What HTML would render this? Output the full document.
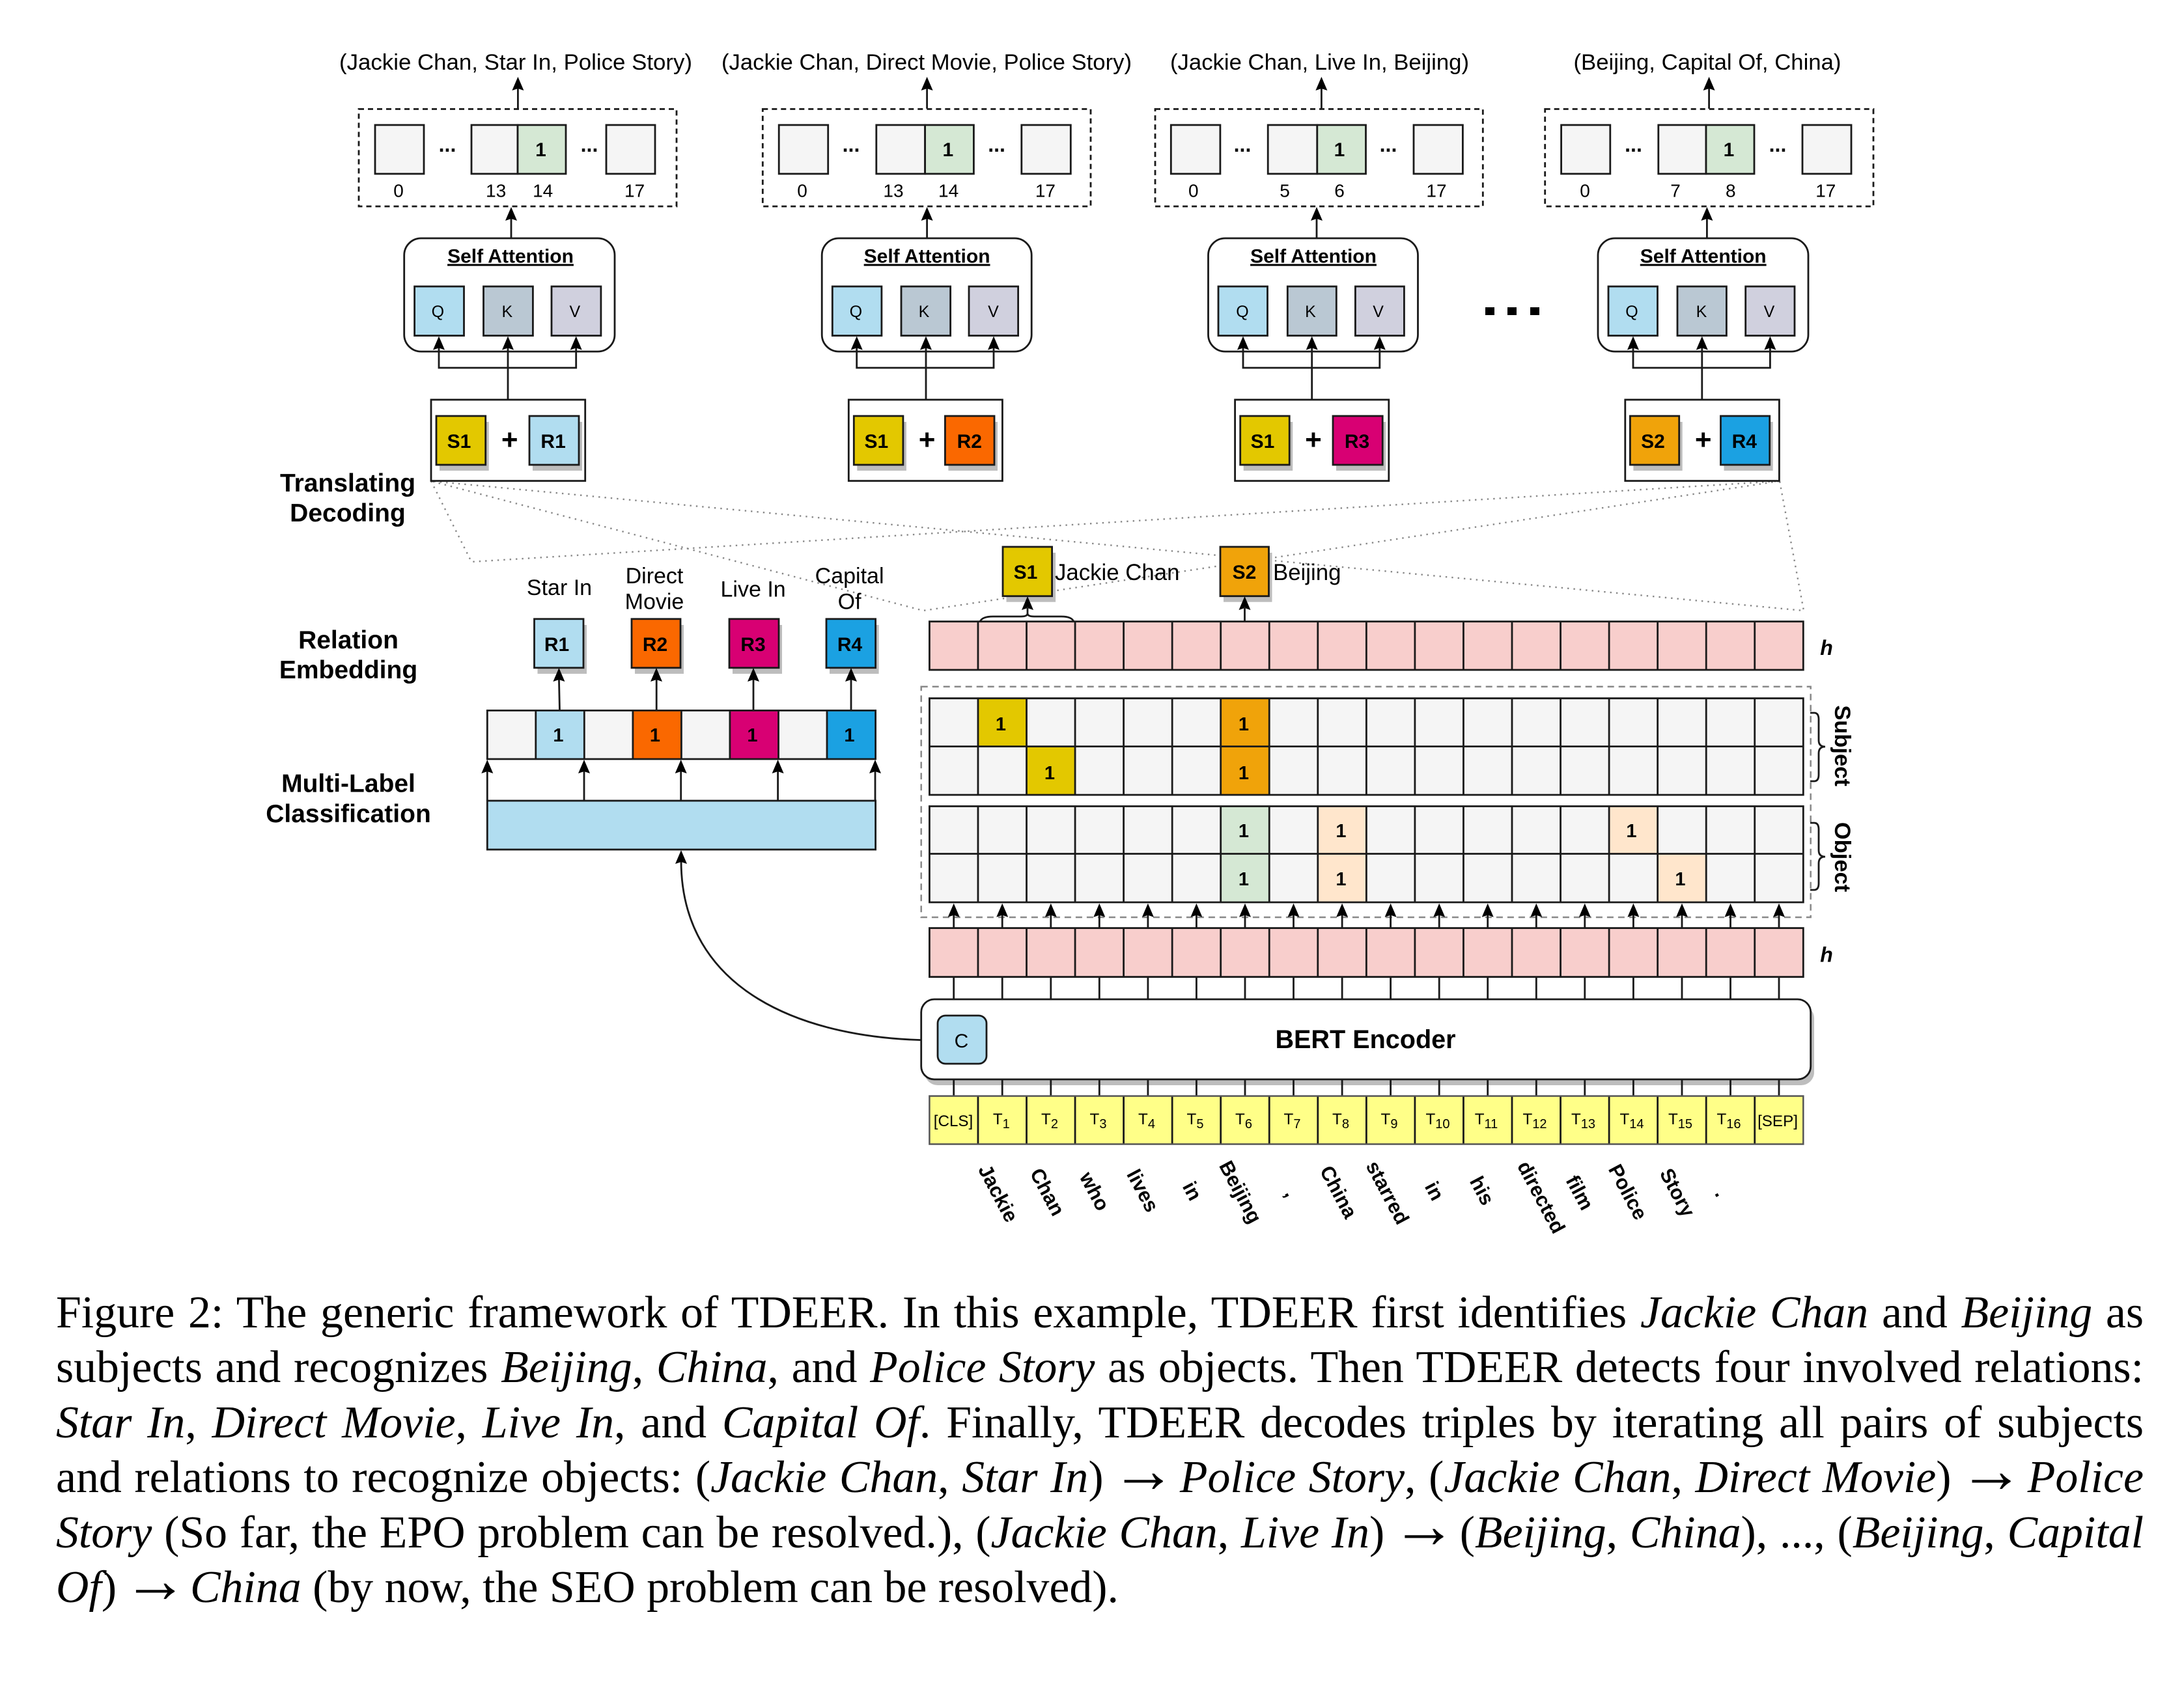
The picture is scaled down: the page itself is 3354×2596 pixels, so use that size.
<!DOCTYPE html>
<html><head><meta charset="utf-8">
<style>
html,body{margin:0;padding:0;background:#fff;width:3354px;height:2596px;overflow:hidden}
svg{position:absolute;left:0;top:0}
text{font-family:"Liberation Sans",Arial,sans-serif;fill:#000}
.b{font-weight:bold}
.m{text-anchor:middle}
.s{fill:none;stroke:#1a1a1a;stroke-width:2.8}
.t{stroke:#1a1a1a;stroke-width:2.8}
.c{position:absolute;left:86px;width:3206px;font-family:"Liberation Serif","Times New Roman",serif;font-size:69.8px;line-height:84px;height:84px;color:#000;white-space:nowrap;text-align:justify;text-align-last:justify}
.c b{font-weight:normal;font-size:100px;line-height:0;margin:0 -14px 0 -8px}
.l{text-align:left;text-align-last:left}
.sh{fill:#bdbdbd}
.d{fill:none;stroke:#888;stroke-width:2.4;stroke-dasharray:2.4 7}
.v{vector-effect:non-scaling-stroke;fill:none;stroke:#1a1a1a;stroke-width:2.8}
</style></head><body>
<svg width="3354" height="2596" viewBox="0 0 3354 2596" xmlns="http://www.w3.org/2000/svg">
<defs>
<path id="a" d="M0 0L9 21L0 18L-9 21Z" fill="#000"/>
<path id="cols" class="v" d="M1501.95 0v1M1576.5 0v1M1651.05 0v1M1725.6 0v1M1800.15 0v1M1874.7 0v1M1949.25 0v1M2023.8 0v1M2098.35 0v1M2172.9 0v1M2247.45 0v1M2322 0v1M2396.55 0v1M2471.1 0v1M2545.65 0v1M2620.2 0v1M2694.75 0v1"/>
<path id="stems" class="v" d="M1464.7 0v1M1539.2 0v1M1613.8 0v1M1688.3 0v1M1762.9 0v1M1837.4 0v1M1912 0v1M1986.5 0v1M2061.1 0v1M2135.6 0v1M2210.2 0v1M2284.7 0v1M2359.3 0v1M2433.8 0v1M2508.4 0v1M2583 0v1M2657.5 0v1M2732 0v1"/>
</defs>

<!-- dotted zoom lines -->
<path class="d" d="M662 739L724 863L2733 739L1418 938L662 739L2770 938L2733 739"/>

<!-- ========== column 1 ========== -->
<text x="792" y="107" class="m" font-size="34.5" textLength="542" lengthAdjust="spacingAndGlyphs">(Jackie Chan, Star In, Police Story)</text>
<path class="s" d="M795.4 167V134"/><use href="#a" x="795.4" y="118"/>
<rect x="551" y="167.5" width="488" height="149.5" fill="#fff" stroke="#1a1a1a" stroke-width="2.8" stroke-dasharray="8 6"/>
<g fill="#f5f5f5" class="t"><rect x="576" y="192" width="75" height="75"/><rect x="724" y="192" width="71" height="75"/><rect x="795" y="192" width="74" height="75" fill="#d5e8d4"/><rect x="931" y="192" width="75" height="75"/></g>
<g class="m b" font-size="32"><text x="687" y="233">...</text><text x="905" y="233">...</text></g>
<text x="830.5" y="240" class="m b" font-size="30">1</text>
<g class="m" font-size="28"><text x="612" y="302.5">0</text><text x="761.6" y="302.5">13</text><text x="833.7" y="302.5">14</text><text x="974.6" y="302.5">17</text></g>
<path class="s" d="M785 366V335"/><use href="#a" x="785" y="318"/>
<rect x="620.7" y="366" width="323.3" height="174" rx="26" fill="#fff" class="t"/>
<text x="784" y="403.5" class="m b" font-size="30" text-decoration="underline">Self Attention</text>
<rect x="636.6" y="440" width="75.9" height="75.6" fill="#b1ddf0" class="t"/><rect x="742.5" y="440" width="75.9" height="75.6" fill="#bac8d3" class="t"/><rect x="847" y="440" width="75.9" height="75.6" fill="#d0d0de" class="t"/>
<g class="m" font-size="25"><text x="672.3" y="487">Q</text><text x="778.8" y="487">K</text><text x="882.8" y="487">V</text></g>
<path class="s" d="M780 614V532M674 532V565H884.7V532"/>
<use href="#a" x="674" y="516.5"/><use href="#a" x="780" y="516.5"/><use href="#a" x="884.7" y="516.5"/>
<rect x="662" y="614" width="236.7" height="124.7" fill="#fff" class="t"/>
<rect x="675" y="648" width="75.7" height="75" class="sh"/><rect x="818" y="648" width="76" height="75" class="sh"/>
<rect x="670" y="639" width="75.7" height="75" fill="#e3c800" class="t"/><rect x="813" y="639" width="76" height="75" fill="#b1ddf0" class="t"/>
<g class="m b" font-size="30"><text x="705" y="688">S1</text><text x="849.6" y="688">R1</text></g>
<text x="782.7" y="690" class="m b" font-size="44">+</text>

<!-- ========== column 2 ========== -->
<text x="1423" y="107" class="m" font-size="34.5" textLength="630" lengthAdjust="spacingAndGlyphs">(Jackie Chan, Direct Movie, Police Story)</text>
<path class="s" d="M1423.6 167V134"/><use href="#a" x="1423.6" y="118"/>
<rect x="1171.3" y="167.5" width="503.7" height="149.5" fill="#fff" stroke="#1a1a1a" stroke-width="2.8" stroke-dasharray="8 6"/>
<g fill="#f5f5f5" class="t"><rect x="1196.2" y="192" width="75.5" height="75"/><rect x="1345.8" y="192" width="74.8" height="75"/><rect x="1420.6" y="192" width="74.8" height="75" fill="#d5e8d4"/><rect x="1568.8" y="192" width="75.5" height="75"/></g>
<g class="m b" font-size="32"><text x="1307" y="233">...</text><text x="1530.6" y="233">...</text></g>
<text x="1455.8" y="240" class="m b" font-size="30">1</text>
<g class="m" font-size="28"><text x="1232" y="302.5">0</text><text x="1372" y="302.5">13</text><text x="1456.6" y="302.5">14</text><text x="1605.4" y="302.5">17</text></g>
<path class="s" d="M1423.6 366V335"/><use href="#a" x="1423.6" y="318"/>
<rect x="1262.2" y="366" width="322" height="174" rx="26" fill="#fff" class="t"/>
<text x="1423.6" y="403.5" class="m b" font-size="30" text-decoration="underline">Self Attention</text>
<rect x="1278.3" y="440" width="75.6" height="75.6" fill="#b1ddf0" class="t"/><rect x="1384" y="440" width="75.6" height="75.6" fill="#bac8d3" class="t"/><rect x="1488" y="440" width="75.6" height="75.6" fill="#d0d0de" class="t"/>
<g class="m" font-size="25"><text x="1314.3" y="487">Q</text><text x="1419" y="487">K</text><text x="1525.5" y="487">V</text></g>
<path class="s" d="M1422 614V532M1315.7 532V565H1526V532"/>
<use href="#a" x="1315.7" y="516.5"/><use href="#a" x="1422" y="516.5"/><use href="#a" x="1526" y="516.5"/>
<rect x="1303.3" y="614" width="236.1" height="124.7" fill="#fff" class="t"/>
<rect x="1316.3" y="648" width="75.6" height="75" class="sh"/><rect x="1456.4" y="648" width="75.6" height="75" class="sh"/>
<rect x="1311.3" y="639" width="75.6" height="75" fill="#e3c800" class="t"/><rect x="1451.4" y="639" width="75.6" height="75" fill="#fa6800" class="t"/>
<g class="m b" font-size="30"><text x="1345.8" y="688">S1</text><text x="1488.8" y="688">R2</text></g>
<text x="1423.6" y="690" class="m b" font-size="44">+</text>

<!-- ========== column 3 ========== -->
<text x="2026.5" y="107" class="m" font-size="34.5" textLength="459" lengthAdjust="spacingAndGlyphs">(Jackie Chan, Live In, Beijing)</text>
<path class="s" d="M2029.4 167V134"/><use href="#a" x="2029.4" y="118"/>
<rect x="1774" y="167.5" width="503.3" height="149.5" fill="#fff" stroke="#1a1a1a" stroke-width="2.8" stroke-dasharray="8 6"/>
<g fill="#f5f5f5" class="t"><rect x="1798.3" y="192" width="75.6" height="75"/><rect x="1947.2" y="192" width="75.6" height="75"/><rect x="2022.8" y="192" width="74.7" height="75" fill="#d5e8d4"/><rect x="2171" y="192" width="75.4" height="75"/></g>
<g class="m b" font-size="32"><text x="1908" y="233">...</text><text x="2132" y="233">...</text></g>
<text x="2057" y="240" class="m b" font-size="30">1</text>
<g class="m" font-size="28"><text x="1832.8" y="302.5">0</text><text x="1973" y="302.5">5</text><text x="2057" y="302.5">6</text><text x="2206" y="302.5">17</text></g>
<path class="s" d="M2022 366V335"/><use href="#a" x="2022" y="318"/>
<rect x="1855.5" y="366" width="322" height="174" rx="26" fill="#fff" class="t"/>
<text x="2017" y="403.5" class="m b" font-size="30" text-decoration="underline">Self Attention</text>
<rect x="1871" y="440" width="75.5" height="75.6" fill="#b1ddf0" class="t"/><rect x="1977.3" y="440" width="75" height="75.6" fill="#bac8d3" class="t"/><rect x="2081.4" y="440" width="75" height="75.6" fill="#d0d0de" class="t"/>
<g class="m" font-size="25"><text x="1908" y="487">Q</text><text x="2012.5" y="487">K</text><text x="2116.6" y="487">V</text></g>
<path class="s" d="M2014.7 614V532M1909 532V565H2118.8V532"/>
<use href="#a" x="1909" y="516.5"/><use href="#a" x="2014.7" y="516.5"/><use href="#a" x="2118.8" y="516.5"/>
<rect x="1896.6" y="614" width="236.2" height="124.7" fill="#fff" class="t"/>
<rect x="1909.7" y="648" width="75.5" height="75" class="sh"/><rect x="2052" y="648" width="76.2" height="75" class="sh"/>
<rect x="1904.7" y="639" width="75.5" height="75" fill="#e3c800" class="t"/><rect x="2047" y="639" width="76.2" height="75" fill="#d80073" class="t"/>
<g class="m b" font-size="30"><text x="1939" y="688">S1</text><text x="2084" y="688">R3</text></g>
<text x="2017" y="690" class="m b" font-size="44">+</text>

<!-- big dots -->
<rect x="2281" y="472" width="14" height="12"/><rect x="2315" y="472" width="14" height="12"/><rect x="2350" y="472" width="14" height="12"/>

<!-- ========== column 4 ========== -->
<text x="2622" y="107" class="m" font-size="34.5" textLength="411" lengthAdjust="spacingAndGlyphs">(Beijing, Capital Of, China)</text>
<path class="s" d="M2624.6 167V134"/><use href="#a" x="2624.6" y="118"/>
<rect x="2372.7" y="167.5" width="504.3" height="149.5" fill="#fff" stroke="#1a1a1a" stroke-width="2.8" stroke-dasharray="8 6"/>
<g fill="#f5f5f5" class="t"><rect x="2397.6" y="192" width="75.2" height="75"/><rect x="2546.8" y="192" width="73.2" height="75"/><rect x="2620" y="192" width="74" height="75" fill="#d5e8d4"/><rect x="2768" y="192" width="75" height="75"/></g>
<g class="m b" font-size="32"><text x="2508.5" y="233">...</text><text x="2730" y="233">...</text></g>
<text x="2655" y="240" class="m b" font-size="30">1</text>
<g class="m" font-size="28"><text x="2434" y="302.5">0</text><text x="2573" y="302.5">7</text><text x="2657.8" y="302.5">8</text><text x="2803.8" y="302.5">17</text></g>
<path class="s" d="M2621.4 366V335"/><use href="#a" x="2621.4" y="318"/>
<rect x="2454" y="366" width="323" height="174" rx="26" fill="#fff" class="t"/>
<text x="2615.7" y="403.5" class="m b" font-size="30" text-decoration="underline">Self Attention</text>
<rect x="2470" y="440" width="75.5" height="75.6" fill="#b1ddf0" class="t"/><rect x="2576" y="440" width="75.4" height="75.6" fill="#bac8d3" class="t"/><rect x="2680.7" y="440" width="75.3" height="75.6" fill="#d0d0de" class="t"/>
<g class="m" font-size="25"><text x="2506" y="487">Q</text><text x="2613" y="487">K</text><text x="2717" y="487">V</text></g>
<path class="s" d="M2613.8 614V532M2508 532V565H2718.4V532"/>
<use href="#a" x="2508" y="516.5"/><use href="#a" x="2613.8" y="516.5"/><use href="#a" x="2718.4" y="516.5"/>
<rect x="2495.8" y="614" width="236.6" height="124.7" fill="#fff" class="t"/>
<rect x="2508.4" y="648" width="75.3" height="75" class="sh"/><rect x="2647.5" y="648" width="75.2" height="75" class="sh"/>
<rect x="2503.4" y="639" width="75.3" height="75" fill="#f0a30a" class="t"/><rect x="2642.5" y="639" width="75.2" height="75" fill="#1ba1e2" class="t"/>
<g class="m b" font-size="30"><text x="2538.5" y="688">S2</text><text x="2678.8" y="688">R4</text></g>
<text x="2615.7" y="690" class="m b" font-size="44">+</text>

<!-- ========== left labels ========== -->
<g class="m b" font-size="39">
<text x="534" y="755">Translating</text><text x="534" y="801">Decoding</text>
<text x="535" y="996">Relation</text><text x="535" y="1042">Embedding</text>
<text x="535" y="1216.4">Multi-Label</text><text x="535" y="1263">Classification</text>
</g>
<g class="m" font-size="34">
<text x="859" y="914">Star In</text>
<text x="1005" y="896">Direct</text><text x="1005" y="935.6">Movie</text>
<text x="1156.6" y="916.4">Live In</text>
<text x="1304.6" y="896">Capital</text><text x="1304.6" y="935.6">Of</text>
</g>

<!-- relation boxes -->
<g class="sh"><rect x="825.5" y="960" width="75.5" height="75"/><rect x="975" y="960" width="75" height="75"/><rect x="1125" y="960" width="76" height="75"/><rect x="1274" y="960" width="75.6" height="75"/></g>
<rect x="820.5" y="950.8" width="75.5" height="75" fill="#b1ddf0" class="t"/><rect x="970" y="950.8" width="75" height="75" fill="#fa6800" class="t"/><rect x="1120" y="950.8" width="76" height="75" fill="#d80073" class="t"/><rect x="1269" y="950.8" width="75.6" height="75" fill="#1ba1e2" class="t"/>
<g class="m b" font-size="30"><text x="855" y="1000">R1</text><text x="1006" y="1000">R2</text><text x="1156.5" y="1000">R3</text><text x="1305" y="1000">R4</text></g>
<path class="s" d="M859.5 1091.4L858.4 1042M1008.2 1091.4V1042M1157 1091.4V1042M1307 1091.4V1042"/>
<use href="#a" x="858.4" y="1026"/><use href="#a" x="1008" y="1026"/><use href="#a" x="1157" y="1026"/><use href="#a" x="1307" y="1026"/>

<!-- multi-label row -->
<rect x="748.3" y="1091.4" width="596.3" height="74.6" fill="#f5f5f5"/>
<rect x="822.8" y="1091.4" width="74.5" height="74.6" fill="#b1ddf0"/><rect x="971.9" y="1091.4" width="74.5" height="74.6" fill="#fa6800"/><rect x="1120.9" y="1091.4" width="74.5" height="74.6" fill="#d80073"/><rect x="1270" y="1091.4" width="74.6" height="74.6" fill="#1ba1e2"/>
<path class="s" d="M748.3 1091.4H1344.6V1166H748.3ZM822.8 1091.4V1166M897.3 1091.4V1166M971.9 1091.4V1166M1046.4 1091.4V1166M1120.9 1091.4V1166M1195.5 1091.4V1166M1270 1091.4V1166"/>
<g class="m b" font-size="29"><text x="857.5" y="1139">1</text><text x="1006" y="1139">1</text><text x="1155.5" y="1139">1</text><text x="1304.5" y="1139">1</text></g>
<rect x="748.3" y="1230" width="596.3" height="75" fill="#b1ddf0" class="t"/>
<path class="s" d="M748.3 1230V1184M897 1230V1184M1045.7 1230V1184M1194.6 1230V1184M1344 1230V1184"/>
<use href="#a" x="748.3" y="1167"/><use href="#a" x="897" y="1167"/><use href="#a" x="1045.7" y="1167"/><use href="#a" x="1194.6" y="1167"/><use href="#a" x="1344" y="1167"/>
<path class="s" d="M1440 1598C1230 1598 1046 1520 1046 1322"/><use href="#a" x="1046" y="1306"/>

<!-- subject boxes -->
<rect x="1545.5" y="849" width="75.6" height="75.7" class="sh"/><rect x="1879" y="849" width="74.5" height="75.7" class="sh"/>
<rect x="1540" y="840" width="75.6" height="75.7" fill="#e3c800" class="t"/><rect x="1874" y="840" width="74.5" height="75.7" fill="#f0a30a" class="t"/>
<g class="m b" font-size="30"><text x="1575" y="889">S1</text><text x="1911" y="889">S2</text></g>
<text x="1620" y="891" font-size="34.8">Jackie Chan</text><text x="1955" y="891" font-size="34.8">Beijing</text>
<use href="#a" x="1578" y="916"/><use href="#a" x="1911.5" y="916"/>
<path class="s" d="M1911.5 955V932M1578 932V942Q1578 947 1588 947H1630Q1646 947 1649 955M1578 942Q1578 947 1568 947H1525Q1508 947 1505 955"/>

<!-- top h row -->
<rect x="1427.4" y="954.7" width="1341.9" height="74.3" fill="#f8cecc"/>
<use href="#cols" transform="translate(0,954.7) scale(1,74.3)"/>
<rect x="1427.4" y="954.7" width="1341.9" height="74.3" class="s"/>
<text x="2805" y="1006" class="m b" font-size="32" font-style="italic">h</text>

<!-- tagger grid -->
<rect x="1414.7" y="1054.8" width="1366" height="354.2" fill="none" stroke="#888" stroke-width="2.5" stroke-dasharray="10 7"/>
<rect x="1427.4" y="1072.7" width="1341.9" height="148.3" fill="#f5f5f5"/>
<rect x="1427.4" y="1238.5" width="1341.9" height="147.5" fill="#f5f5f5"/>
<rect x="1501.95" y="1072.7" width="74.55" height="73.9" fill="#e3c800"/><rect x="1576.5" y="1146.6" width="74.55" height="74.4" fill="#e3c800"/>
<rect x="1874.7" y="1072.7" width="74.55" height="148.3" fill="#f0a30a"/>
<rect x="1874.7" y="1238.5" width="74.55" height="147.5" fill="#d5e8d4"/>
<rect x="2023.8" y="1238.5" width="74.55" height="147.5" fill="#ffe6cc"/>
<rect x="2471.1" y="1238.5" width="74.55" height="73" fill="#ffe6cc"/><rect x="2545.65" y="1311.5" width="74.55" height="74.5" fill="#ffe6cc"/>
<use href="#cols" transform="translate(0,1072.7) scale(1,148.3)"/>
<use href="#cols" transform="translate(0,1238.5) scale(1,147.5)"/>
<path class="s" d="M1427.4 1072.7H2769.3V1221H1427.4ZM1427.4 1146.6H2769.3M1427.4 1238.5H2769.3V1386H1427.4ZM1427.4 1311.5H2769.3"/>
<g class="m b" font-size="29">
<text x="1537" y="1122">1</text><text x="1612" y="1197">1</text><text x="1910" y="1122">1</text><text x="1910" y="1197">1</text>
<text x="1910" y="1286">1</text><text x="1910" y="1360">1</text><text x="2059.5" y="1286">1</text><text x="2059.5" y="1360">1</text>
<text x="2505.5" y="1286">1</text><text x="2580.5" y="1360">1</text>
</g>
<!-- braces -->
<path class="s" d="M2780 1095H2786Q2793 1095 2793 1105V1137Q2793 1147 2803 1147Q2793 1147 2793 1157V1190Q2793 1200 2786 1200H2780"/>
<path class="s" d="M2780 1264H2786Q2793 1264 2793 1274V1306Q2793 1316 2803 1316Q2793 1316 2793 1326V1357Q2793 1367 2786 1367H2780"/>
<text transform="translate(2818,1145.5) rotate(90)" class="m b" font-size="34.5">Subject</text>
<text transform="translate(2818,1316.5) rotate(90)" class="m b" font-size="34.5">Object</text>

<!-- arrows between h and grid -->
<use href="#stems" transform="translate(0,1404) scale(1,22)"/>
<g><use href="#a" x="1464.7" y="1387.7"/><use href="#a" x="1539.2" y="1387.7"/><use href="#a" x="1613.8" y="1387.7"/><use href="#a" x="1688.3" y="1387.7"/><use href="#a" x="1762.9" y="1387.7"/><use href="#a" x="1837.4" y="1387.7"/><use href="#a" x="1912" y="1387.7"/><use href="#a" x="1986.5" y="1387.7"/><use href="#a" x="2061.1" y="1387.7"/><use href="#a" x="2135.6" y="1387.7"/><use href="#a" x="2210.2" y="1387.7"/><use href="#a" x="2284.7" y="1387.7"/><use href="#a" x="2359.3" y="1387.7"/><use href="#a" x="2433.8" y="1387.7"/><use href="#a" x="2508.4" y="1387.7"/><use href="#a" x="2583" y="1387.7"/><use href="#a" x="2657.5" y="1387.7"/><use href="#a" x="2732" y="1387.7"/></g>

<!-- bottom h row -->
<rect x="1427.4" y="1425.6" width="1341.9" height="75" fill="#f8cecc"/>
<use href="#cols" transform="translate(0,1425.6) scale(1,75)"/>
<rect x="1427.4" y="1425.6" width="1341.9" height="75" class="s"/>
<text x="2805" y="1477.6" class="m b" font-size="32" font-style="italic">h</text>

<use href="#stems" transform="translate(0,1500.6) scale(1,35)"/>

<!-- BERT -->
<rect x="1420" y="1544" width="1366" height="123" rx="20" class="sh"/>
<rect x="1414.7" y="1535" width="1366" height="123" rx="20" fill="#fff" class="t"/>
<use href="#stems" transform="translate(0,1658) scale(1,26)"/>
<rect x="1440" y="1560" width="75" height="74" rx="12" fill="#b1ddf0" class="t"/>
<text x="1476.5" y="1609" class="m" font-size="30">C</text>
<text x="2097" y="1610" class="m b" font-size="39.6">BERT Encoder</text>

<!-- tokens -->
<rect x="1427.4" y="1683.6" width="1341.9" height="73.9" fill="#ffff88"/>
<use href="#cols" transform="translate(0,1683.6) scale(1,73.9)"/>
<rect x="1427.4" y="1683.6" width="1341.9" height="73.9" fill="none" stroke="#555" stroke-width="2.5"/>
<g class="m" font-size="24.2">
<text x="1464" y="1730">[CLS]</text>
<text x="1537.8" y="1727">T<tspan dy="6" font-size="20">1</tspan></text>
<text x="1612" y="1727">T<tspan dy="6" font-size="20">2</tspan></text>
<text x="1686.5" y="1727">T<tspan dy="6" font-size="20">3</tspan></text>
<text x="1761" y="1727">T<tspan dy="6" font-size="20">4</tspan></text>
<text x="1835.5" y="1727">T<tspan dy="6" font-size="20">5</tspan></text>
<text x="1910" y="1727">T<tspan dy="6" font-size="20">6</tspan></text>
<text x="1984.5" y="1727">T<tspan dy="6" font-size="20">7</tspan></text>
<text x="2059" y="1727">T<tspan dy="6" font-size="20">8</tspan></text>
<text x="2133.5" y="1727">T<tspan dy="6" font-size="20">9</tspan></text>
<text x="2208" y="1727">T<tspan dy="6" font-size="20">10</tspan></text>
<text x="2282.5" y="1727">T<tspan dy="6" font-size="20">11</tspan></text>
<text x="2357" y="1727">T<tspan dy="6" font-size="20">12</tspan></text>
<text x="2431.5" y="1727">T<tspan dy="6" font-size="20">13</tspan></text>
<text x="2506" y="1727">T<tspan dy="6" font-size="20">14</tspan></text>
<text x="2580.5" y="1727">T<tspan dy="6" font-size="20">15</tspan></text>
<text x="2655" y="1727">T<tspan dy="6" font-size="20">16</tspan></text>
<text x="2730" y="1730">[SEP]</text>
</g>

<!-- rotated words -->
<g class="m b" font-size="31" dominant-baseline="central">
<text transform="translate(1533,1833) rotate(62)">Jackie</text>
<text transform="translate(1608.5,1831) rotate(62)">Chan</text>
<text transform="translate(1681,1830) rotate(62)">who</text>
<text transform="translate(1755,1829) rotate(62)">lives</text>
<text transform="translate(1831,1829.5) rotate(62)">in</text>
<text transform="translate(1905,1831) rotate(62)">Beijing</text>
<text transform="translate(1983.5,1832) rotate(62)">,</text>
<text transform="translate(2055.6,1831) rotate(62)">China</text>
<text transform="translate(2131,1832) rotate(62)">starred</text>
<text transform="translate(2203,1829.5) rotate(62)">in</text>
<text transform="translate(2276,1829) rotate(62)">his</text>
<text transform="translate(2367,1839) rotate(62)">directed</text>
<text transform="translate(2426,1832) rotate(62)">film</text>
<text transform="translate(2500,1831) rotate(62)">Police</text>
<text transform="translate(2576,1832) rotate(62)">Story</text>
<text transform="translate(2644,1832) rotate(62)">.</text>
</g>
</svg>

<div class="c" style="top:1975px">Figure 2: The generic framework of TDEER. In this example, TDEER first identifies <i>Jackie Chan</i> and <i>Beijing</i> as</div>
<div class="c" style="top:2059px">subjects and recognizes <i>Beijing</i>, <i>China</i>, and <i>Police Story</i> as objects. Then TDEER detects four involved relations:</div>
<div class="c" style="top:2143.5px"><i>Star In</i>, <i>Direct Movie</i>, <i>Live In</i>, and <i>Capital Of</i>. Finally, TDEER decodes triples by iterating all pairs of subjects</div>
<div class="c" style="top:2228px">and relations to recognize objects: (<i>Jackie Chan</i>, <i>Star In</i>) <b>→</b> <i>Police Story</i>, (<i>Jackie Chan</i>, <i>Direct Movie</i>) <b>→</b> <i>Police</i></div>
<div class="c" style="top:2312.5px"><i>Story</i> (So far, the EPO problem can be resolved.), (<i>Jackie Chan</i>, <i>Live In</i>) <b>→</b> (<i>Beijing</i>, <i>China</i>), ..., (<i>Beijing</i>, <i>Capital</i></div>
<div class="c l" style="top:2397px"><i>Of</i>) <b>→</b> <i>China</i> (by now, the SEO problem can be resolved).</div>
</body></html>
